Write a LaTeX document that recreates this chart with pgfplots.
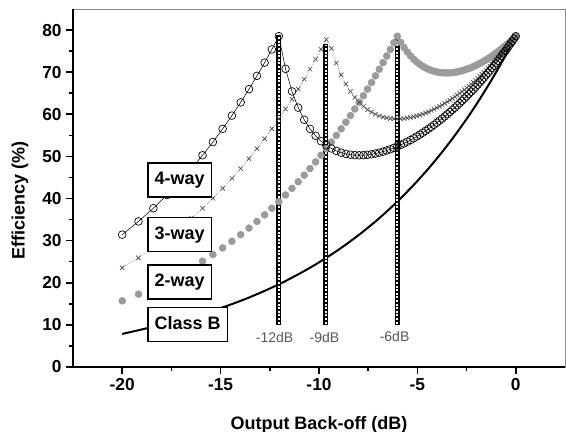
\documentclass[border=0pt]{standalone}
\usepackage{fontspec}
\setmainfont{Liberation Sans}
\usepackage{pgfplots}
\usepackage{pgfplotstable}
\pgfplotsset{compat=1.18}

% efficiency (%) vs output back-off (dB)
\pgfplotstableread{
x       w2     w3     w4
-20.000 15.71  23.56  31.42
-19.172 17.28  25.92  34.56
-18.416 18.85  28.27  37.70
-17.721 20.42  30.63  40.84
-17.077 21.99  32.99  43.98
-16.478 23.56  35.34  47.12
-15.918 25.13  37.70  50.27
-15.391 26.70  40.06  53.41
-14.895 28.27  42.41  56.55
-14.425 29.85  44.77  59.69
-13.979 31.42  47.12  62.83
-13.556 32.99  49.48  65.97
-13.152 34.56  51.84  69.12
-12.765 36.13  54.19  72.26
-12.396 37.70  56.55  75.40
-12.041 39.27  58.91  78.54
-11.701 40.84  61.26  70.79
-11.373 42.41  63.62  65.43
-11.057 43.98  65.97  61.58
-10.752 45.55  68.33  58.71
-10.458 47.12  70.69  56.55
-10.173 48.69  73.04  54.89
-9.897  50.27  75.40  53.62
-9.630  51.84  77.75  52.63
-9.370  53.41  75.66  51.88
-9.119  54.98  72.16  51.31
-8.874  56.55  69.40  50.89
-8.636  58.12  67.20  50.60
-8.404  59.69  65.43  50.41
-8.179  61.26  64.00  50.30
-7.959  62.83  62.83  50.27
-7.744  64.40  61.89  50.30
-7.535  65.97  61.12  50.38
-7.331  67.54  60.51  50.51
-7.131  69.12  60.02  50.68
-6.936  70.69  59.64  50.89
-6.745  72.26  59.35  51.14
-6.558  73.83  59.15  51.41
-6.375  75.40  59.01  51.70
-6.196  76.97  58.93  52.02
-6.021  78.54  58.91  52.36
-5.849  77.09  58.93  52.72
-5.680  75.85  58.99  53.09
-5.514  74.79  59.09  53.48
-5.352  73.88  59.23  53.89
-5.193  73.10  59.40  54.31
-5.036  72.44  59.59  54.73
-4.883  71.88  59.81  55.17
-4.731  71.41  60.05  55.62
-4.583  71.01  60.31  56.08
-4.437  70.69  60.59  56.55
-4.293  70.42  60.88  57.02
-4.152  70.21  61.20  57.51
-4.013  70.05  61.53  58.00
-3.876  69.93  61.87  58.49
-3.742  69.86  62.22  58.99
-3.609  69.82  62.58  59.50
-3.479  69.82  62.96  60.01
-3.350  69.84  63.34  60.53
-3.223  69.89  63.74  61.05
-3.098  69.97  64.14  61.58
-2.975  70.07  64.55  62.11
-2.853  70.20  64.97  62.64
-2.734  70.34  65.40  63.18
-2.615  70.51  65.83  63.72
-2.499  70.69  66.27  64.26
-2.384  70.88  66.71  64.81
-2.270  71.09  67.16  65.36
-2.158  71.32  67.62  65.91
-2.047  71.56  68.08  66.46
-1.938  71.81  68.54  67.02
-1.830  72.07  69.01  67.58
-1.724  72.34  69.49  68.14
-1.618  72.63  69.96  68.71
-1.514  72.92  70.45  69.27
-1.412  73.22  70.93  69.84
-1.310  73.53  71.42  70.41
-1.210  73.85  71.91  70.98
-1.110  74.17  72.41  71.55
-1.012  74.50  72.90  72.13
-0.915  74.84  73.41  72.71
-0.819  75.19  73.91  73.28
-0.724  75.54  74.41  73.86
-0.630  75.90  74.92  74.44
-0.537  76.26  75.43  75.02
-0.446  76.63  75.95  75.61
-0.355  77.00  76.46  76.19
-0.265  77.38  76.98  76.78
-0.175  77.76  77.50  77.37
-0.087  78.15  78.02  77.95
0.000   78.54  78.54  78.54
}\doherty

\definecolor{dotgray}{RGB}{155,155,155}
\tikzset{
  boxlab/.style={draw=black, fill=white, line width=1pt, anchor=west,
    font=\bfseries\fontsize{13.5}{14}\selectfont,
    inner xsep=5pt, inner ysep=6.5pt, text height=9.7pt, text depth=2.85pt},
  dblab/.style={text=black!65, font=\fontsize{10.5}{11}\selectfont},
}

\begin{document}
\begin{tikzpicture}
\begin{axis}[
  name=ax,
  set layers,
  scale only axis,
  width=369pt, height=268.5pt,
  xmin=-22.5, xmax=2.5,
  ymin=0, ymax=85,
  xtick={-20,-15,-10,-5,0},
  minor x tick num=1,
  ytick={0,10,...,80},
  minor y tick num=1,
  tick pos=left,
  tick align=outside,
  major tick length=5pt,
  minor tick length=3pt,
  every tick/.style={black, line width=1.2pt},
  axis line style={draw=black!45, line width=0.6pt},
  /pgf/number format/assume math mode=true,
  ticklabel style={font=\bfseries\fontsize{13}{13}\selectfont},
  xlabel={Output Back-off (dB)},
  ylabel={Efficiency (\%)},
  every axis x label/.style={at={(axis description cs:0.5,-0.176)}, anchor=base,
    font=\bfseries\fontsize{13.5}{14}\selectfont},
  every axis y label/.style={at={(axis description cs:-0.081,0.464)}, rotate=90, anchor=south,
    font=\bfseries\fontsize{13.5}{14}\selectfont},
  clip=false,
]
% class B
\addplot[black, line width=1.5pt, smooth] coordinates {
  (-20.000,7.85) (-16.478,11.78) (-13.979,15.71) (-12.041,19.63)
  (-10.458,23.56) (-9.119,27.49) (-7.959,31.42) (-6.936,35.34)
  (-6.021,39.27) (-5.193,43.20) (-4.437,47.12) (-3.742,51.05)
  (-3.098,54.98) (-2.499,58.90) (-1.938,62.83) (-1.412,66.76)
  (-0.915,70.69) (-0.446,74.61) (0,78.54)
};
% 2-way
\addplot[only marks, mark=*, mark size=2.6pt, dotgray, mark options={draw=dotgray, fill=dotgray}]
  table[x=x, y=w2] {\doherty};
% 3-way
\addplot[black!70, line width=0.4pt, densely dotted, mark=x, mark size=2.3pt,
  mark options={solid, line width=0.5pt}]
  table[x=x, y=w3] {\doherty};
% 4-way
\addplot[black, line width=0.4pt, mark=o, mark size=2.9pt,
  mark options={solid, line width=0.5pt, fill=none}]
  table[x=x, y=w4] {\doherty};

% back-off markers
\addplot[black, line width=3.8pt] coordinates {(-12.04,10) (-12.04,78.8)};
\addplot[white, line width=1.4pt, dash pattern=on 1.5pt off 1.2pt] coordinates {(-12.04,10.3) (-12.04,78.5)};
\addplot[black, line width=3.8pt] coordinates {(-9.65,10) (-9.65,76.8)};
\addplot[white, line width=1.4pt, dash pattern=on 1.5pt off 1.2pt] coordinates {(-9.65,10.3) (-9.65,76.5)};
\addplot[black, line width=3.8pt] coordinates {(-6.02,10) (-6.02,78.8)};
\addplot[white, line width=1.4pt, dash pattern=on 1.5pt off 1.2pt] coordinates {(-6.02,10.3) (-6.02,78.5)};

\begin{pgfonlayer}{axis foreground}
\node[dblab] at (axis cs:-12.26,6.9) {-12dB};
\node[dblab] at (axis cs:-9.72,6.9) {-9dB};
\node[dblab] at (axis cs:-6.16,7.3) {-6dB};

\node[boxlab] at (axis cs:-18.73,44.4) {4-way};
\node[boxlab] at (axis cs:-18.73,31.4) {3-way};
\node[boxlab] at (axis cs:-18.73,20.2) {2-way};
\node[boxlab] at (axis cs:-18.73,10.1) {Class B};

% heavy left and bottom axis lines
\draw[black, line width=1.6pt] (rel axis cs:0,1) -- (rel axis cs:0,0) -- (rel axis cs:1,0);
\end{pgfonlayer}
\end{axis}
\pgfresetboundingbox
\path[use as bounding box] ([shift={(-54.75pt,-48.75pt)}]ax.south west) rectangle ([shift={(0.75pt,6.75pt)}]ax.north east);
\end{tikzpicture}
\end{document}
